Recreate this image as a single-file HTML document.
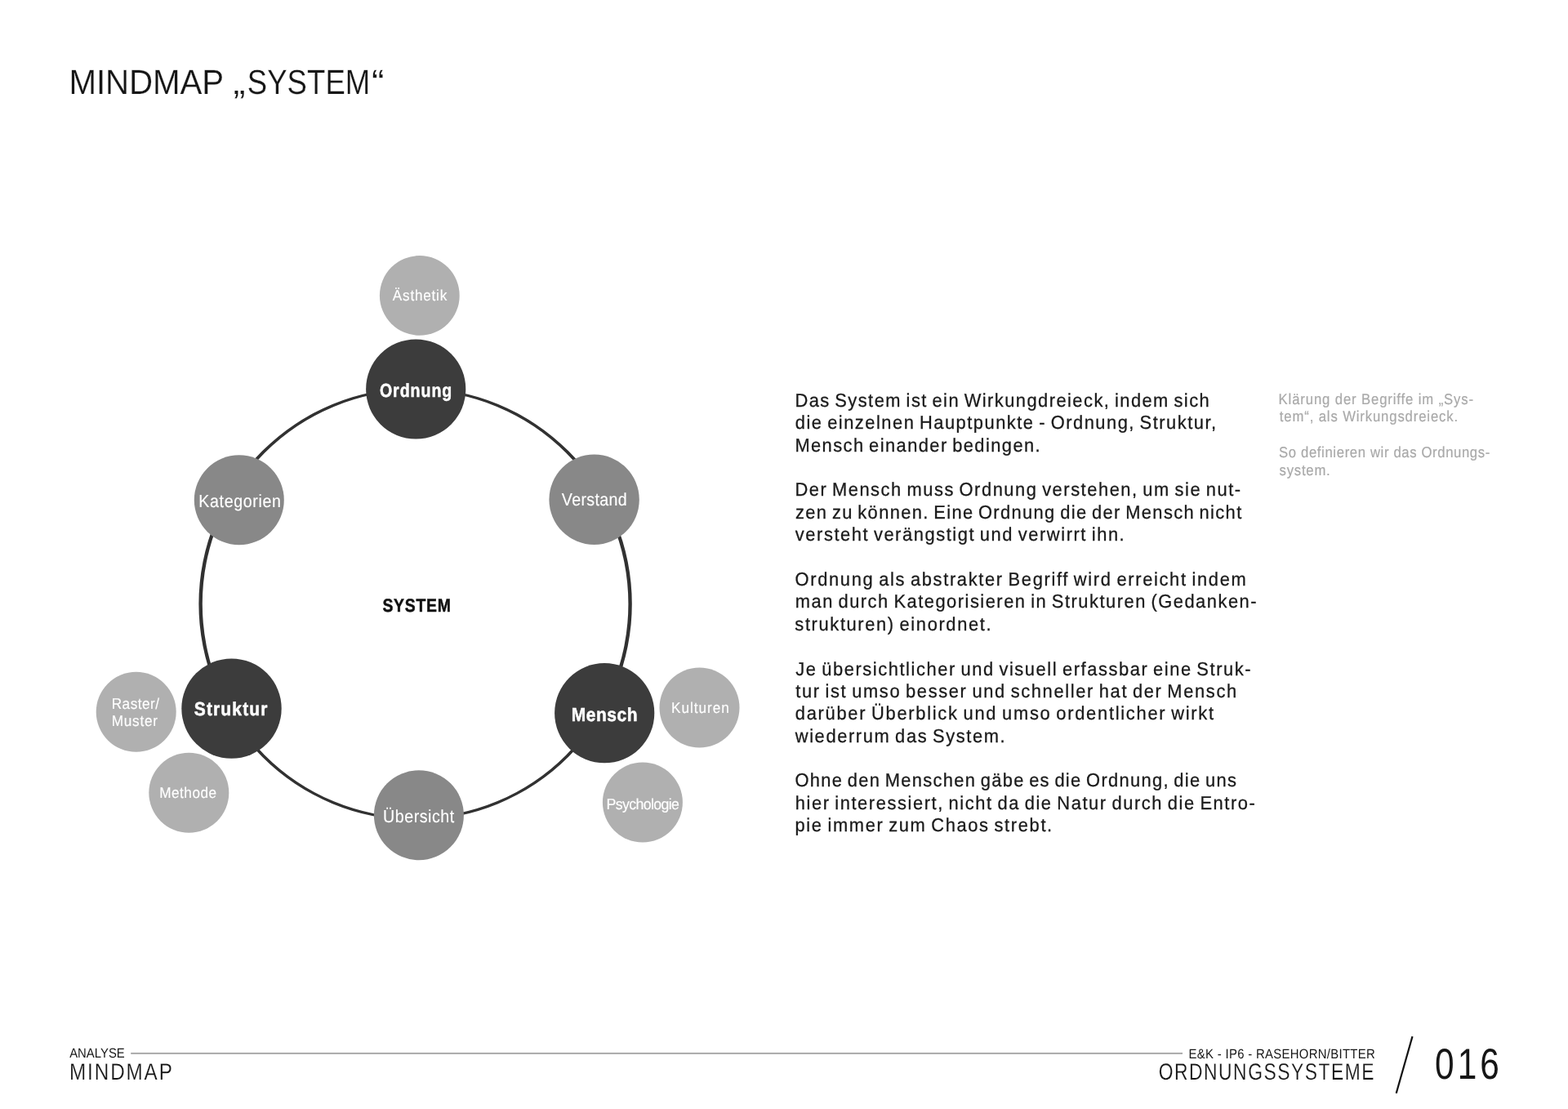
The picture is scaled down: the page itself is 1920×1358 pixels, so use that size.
<!DOCTYPE html>
<html lang="de">
<head>
<meta charset="utf-8">
<title>Mindmap „System“ – Ordnungssysteme</title>
<style>
html,body{margin:0;padding:0;background:#fff}
body{width:1920px;height:1358px;position:relative;overflow:hidden;font-family:"Liberation Sans",sans-serif;will-change:transform}
h1,p,section,article,aside,footer{margin:0;padding:0;font:inherit}
.t{position:absolute;left:0;top:0;display:block;white-space:nowrap;line-height:1;font-weight:400;font-style:normal;transform-origin:0 0;margin:0;text-rendering:geometricPrecision}
svg{position:absolute;left:0;top:0}
</style>
</head>
<body>
<svg width="1920" height="1358" viewBox="0 0 1920 1358">
<path fill="#313131" fill-rule="evenodd" d="M243.4 739.6a265.2 264.7 0 1 0 530.4 0a265.2 264.7 0 1 0 -530.4 0zM247.8 739.6a260.8 261.6 0 1 0 521.6 0a260.8 261.6 0 1 0 -521.6 0z"/>
<circle cx="513.8" cy="361.9" r="48.9" fill="#b0b0b0"/>
<circle cx="166.7" cy="871.8" r="49.0" fill="#b0b0b0"/>
<circle cx="231.3" cy="970.8" r="49.0" fill="#b0b0b0"/>
<circle cx="856.5" cy="866.5" r="49.0" fill="#b0b0b0"/>
<circle cx="786.9" cy="982.6" r="49.0" fill="#b0b0b0"/>
<circle cx="292.8" cy="612.3" r="55.0" fill="#888888"/>
<circle cx="727.6" cy="611.8" r="55.2" fill="#888888"/>
<circle cx="512.9" cy="998.2" r="55.0" fill="#888888"/>
<circle cx="509.2" cy="476.5" r="61.1" fill="#3c3c3c"/>
<circle cx="283.5" cy="867.6" r="61.2" fill="#3c3c3c"/>
<circle cx="740.2" cy="873.2" r="61.1" fill="#3c3c3c"/>
<rect x="160.2" y="1288.9" width="1287.8" height="2.0" fill="#aaaaaa"/>
<line x1="1729.5" y1="1269.1" x2="1709.7" y2="1338.7" stroke="#111111" stroke-width="2.2"/>
</svg>
<h1><span class="t" id="t0" style="font-size:42.4px;color:#161616;letter-spacing:-0.114px;-webkit-text-stroke:0.2px #fff;transform:translate(84.5px,80px) scaleX(0.95)">MINDMAP</span> <span class="t" id="t1" style="font-size:42.4px;color:#161616;letter-spacing:0px;-webkit-text-stroke:0.2px #fff;transform:translate(285.45px,80px) scaleX(1.066)">„</span><span class="t" id="t2" style="font-size:42.4px;color:#161616;letter-spacing:0.105px;-webkit-text-stroke:0.2px #fff;transform:translate(302.8px,80px) scaleX(0.86)">SYSTEM</span><span class="t" id="t3" style="font-size:42.4px;color:#161616;letter-spacing:0px;-webkit-text-stroke:0.2px #fff;transform:translate(455.1px,80px) scaleX(1.099)">“</span></h1>
<section class="diagram"><span class="t" id="t4" style="font-size:18.7px;color:#ffffff;letter-spacing:0.815px;-webkit-text-stroke:0.15px #ffffff;transform:translate(480.85px,353px) scaleX(0.92)">Ästhetik</span>
<span class="t" id="t5" style="font-size:23.3px;color:#ffffff;font-weight:700;letter-spacing:1.151px;-webkit-text-stroke:0.5px #ffffff;transform:translate(464.9px,467px) scaleX(0.84)">Ordnung</span>
<span class="t" id="t6" style="font-size:21.8px;color:#ffffff;letter-spacing:0.691px;-webkit-text-stroke:0.15px #ffffff;transform:translate(243.35px,603px) scaleX(0.9)">Kategorien</span>
<span class="t" id="t7" style="font-size:21.8px;color:#ffffff;letter-spacing:0.365px;-webkit-text-stroke:0.15px #ffffff;transform:translate(687.85px,601px) scaleX(0.9)">Verstand</span>
<span class="t" id="t8" style="font-size:22.5px;color:#111111;font-weight:700;letter-spacing:0.872px;-webkit-text-stroke:0.5px #111111;transform:translate(468.45px,731px) scaleX(0.86)">SYSTEM</span>
<span class="t" id="t9" style="font-size:23.3px;color:#ffffff;font-weight:700;letter-spacing:1.294px;-webkit-text-stroke:0.5px #ffffff;transform:translate(237.75px,857px) scaleX(0.9)">Struktur</span>
<span class="t" id="t10" style="font-size:23.3px;color:#ffffff;font-weight:700;letter-spacing:0.622px;-webkit-text-stroke:0.5px #ffffff;transform:translate(699.7px,864px) scaleX(0.9)">Mensch</span>
<span class="t" id="t11" style="font-size:18.7px;color:#ffffff;letter-spacing:0.498px;-webkit-text-stroke:0.15px #ffffff;transform:translate(136.75px,853px) scaleX(0.92)">Raster/</span>
<span class="t" id="t12" style="font-size:18.7px;color:#ffffff;letter-spacing:0.783px;-webkit-text-stroke:0.15px #ffffff;transform:translate(136.75px,874px) scaleX(0.92)">Muster</span>
<span class="t" id="t13" style="font-size:18.7px;color:#ffffff;letter-spacing:1.048px;-webkit-text-stroke:0.15px #ffffff;transform:translate(822.1px,858px) scaleX(0.92)">Kulturen</span>
<span class="t" id="t14" style="font-size:18.7px;color:#ffffff;letter-spacing:0.507px;-webkit-text-stroke:0.15px #ffffff;transform:translate(195.3px,962px) scaleX(0.92)">Methode</span>
<span class="t" id="t15" style="font-size:18.7px;color:#ffffff;letter-spacing:-0.658px;-webkit-text-stroke:0.15px #ffffff;transform:translate(742.45px,976px) scaleX(0.95)">Psychologie</span>
<span class="t" id="t16" style="font-size:21.8px;color:#ffffff;letter-spacing:0.611px;-webkit-text-stroke:0.15px #ffffff;transform:translate(469px,989px) scaleX(0.9)">Übersicht</span></section>
<article><p><span class="t" id="t17" style="font-size:23px;color:#1a1a1a;letter-spacing:1.544px;word-spacing:-2px;-webkit-text-stroke:0.3px #1a1a1a;transform:translate(973.4px,479px) scaleX(0.95)">Das System ist ein Wirkungdreieck, indem sich</span>
<span class="t" id="t18" style="font-size:23px;color:#1a1a1a;letter-spacing:1.593px;word-spacing:-2px;-webkit-text-stroke:0.3px #1a1a1a;transform:translate(973.75px,506px) scaleX(0.95)">die einzelnen Hauptpunkte - Ordnung, Struktur,</span>
<span class="t" id="t19" style="font-size:23px;color:#1a1a1a;letter-spacing:1.507px;word-spacing:-2px;-webkit-text-stroke:0.3px #1a1a1a;transform:translate(973.4px,534px) scaleX(0.95)">Mensch einander bedingen.</span></p>
<p><span class="t" id="t20" style="font-size:23px;color:#1a1a1a;letter-spacing:1.628px;word-spacing:-2px;-webkit-text-stroke:0.3px #1a1a1a;transform:translate(973.4px,588px) scaleX(0.95)">Der Mensch muss Ordnung verstehen, um sie nut-</span>
<span class="t" id="t21" style="font-size:23px;color:#1a1a1a;letter-spacing:1.446px;word-spacing:-2px;-webkit-text-stroke:0.3px #1a1a1a;transform:translate(974.05px,616px) scaleX(0.95)">zen zu können. Eine Ordnung die der Mensch nicht</span>
<span class="t" id="t22" style="font-size:23px;color:#1a1a1a;letter-spacing:1.659px;word-spacing:-2px;-webkit-text-stroke:0.3px #1a1a1a;transform:translate(973.8px,643px) scaleX(0.95)">versteht verängstigt und verwirrt ihn.</span></p>
<p><span class="t" id="t23" style="font-size:23px;color:#1a1a1a;letter-spacing:1.756px;word-spacing:-2px;-webkit-text-stroke:0.3px #1a1a1a;transform:translate(973.6px,698px) scaleX(0.95)">Ordnung als abstrakter Begriff wird erreicht indem</span>
<span class="t" id="t24" style="font-size:23px;color:#1a1a1a;letter-spacing:1.593px;word-spacing:-2px;-webkit-text-stroke:0.3px #1a1a1a;transform:translate(973.75px,725px) scaleX(0.95)">man durch Kategorisieren in Strukturen (Gedanken-</span>
<span class="t" id="t25" style="font-size:23px;color:#1a1a1a;letter-spacing:1.722px;word-spacing:-2px;-webkit-text-stroke:0.3px #1a1a1a;transform:translate(973.35px,753px) scaleX(0.95)">strukturen) einordnet.</span></p>
<p><span class="t" id="t26" style="font-size:23px;color:#1a1a1a;letter-spacing:1.662px;word-spacing:-2px;-webkit-text-stroke:0.3px #1a1a1a;transform:translate(974.2px,808px) scaleX(0.95)">Je übersichtlicher und visuell erfassbar eine Struk-</span>
<span class="t" id="t27" style="font-size:23px;color:#1a1a1a;letter-spacing:1.744px;word-spacing:-2px;-webkit-text-stroke:0.3px #1a1a1a;transform:translate(974.2px,835px) scaleX(0.95)">tur ist umso besser und schneller hat der Mensch</span>
<span class="t" id="t28" style="font-size:23px;color:#1a1a1a;letter-spacing:1.819px;word-spacing:-2px;-webkit-text-stroke:0.3px #1a1a1a;transform:translate(973.75px,862px) scaleX(0.95)">darüber Überblick und umso ordentlicher wirkt</span>
<span class="t" id="t29" style="font-size:23px;color:#1a1a1a;letter-spacing:1.705px;word-spacing:-2px;-webkit-text-stroke:0.3px #1a1a1a;transform:translate(973.75px,890px) scaleX(0.95)">wiederrum das System.</span></p>
<p><span class="t" id="t30" style="font-size:23px;color:#1a1a1a;letter-spacing:1.404px;word-spacing:-2px;-webkit-text-stroke:0.3px #1a1a1a;transform:translate(973.45px,944px) scaleX(0.95)">Ohne den Menschen gäbe es die Ordnung, die uns</span>
<span class="t" id="t31" style="font-size:23px;color:#1a1a1a;letter-spacing:1.669px;word-spacing:-2px;-webkit-text-stroke:0.3px #1a1a1a;transform:translate(973.75px,972px) scaleX(0.95)">hier interessiert, nicht da die Natur durch die Entro-</span>
<span class="t" id="t32" style="font-size:23px;color:#1a1a1a;letter-spacing:1.743px;word-spacing:-2px;-webkit-text-stroke:0.3px #1a1a1a;transform:translate(973.45px,999px) scaleX(0.95)">pie immer zum Chaos strebt.</span></p></article>
<aside><p><span class="t" id="t33" style="font-size:18.5px;color:#a9a9a9;letter-spacing:0.992px;-webkit-text-stroke:0.2px #a9a9a9;transform:translate(1565.6px,480px) scaleX(0.9)">Klärung der Begriffe im „Sys-</span>
<span class="t" id="t34" style="font-size:18.5px;color:#a9a9a9;letter-spacing:0.982px;-webkit-text-stroke:0.2px #a9a9a9;transform:translate(1566.85px,501px) scaleX(0.9)">tem“, als Wirkungsdreieck.</span></p>
<p><span class="t" id="t35" style="font-size:18.5px;color:#a9a9a9;letter-spacing:0.719px;-webkit-text-stroke:0.2px #a9a9a9;transform:translate(1566.1px,545px) scaleX(0.9)">So definieren wir das Ordnungs-</span>
<span class="t" id="t36" style="font-size:18.5px;color:#a9a9a9;letter-spacing:0.87px;-webkit-text-stroke:0.2px #a9a9a9;transform:translate(1566.6px,567px) scaleX(0.9)">system.</span></p></aside>
<footer><div class="footL"><span class="t" id="t37" style="font-size:16.5px;color:#161616;letter-spacing:0.019px;transform:translate(85.2px,1282px) scaleX(0.9)">ANALYSE</span>
<span class="t" id="t38" style="font-size:28.5px;color:#161616;letter-spacing:2.245px;-webkit-text-stroke:0.2px #fff;transform:translate(85px,1299px) scaleX(0.85)">MINDMAP</span></div>
<div class="footR"><span class="t" id="t39" style="font-size:16.5px;color:#161616;letter-spacing:0.368px;transform:translate(1455.6px,1283px) scaleX(0.9)">E&amp;K - IP6 - RASEHORN/BITTER</span>
<span class="t" id="t40" style="font-size:28.5px;color:#161616;letter-spacing:1.951px;-webkit-text-stroke:0.2px #fff;transform:translate(1418.7px,1299px) scaleX(0.8)">ORDNUNGSSYSTEME</span></div>
<div class="page"><span class="t" id="t41" style="font-size:53px;color:#161616;letter-spacing:5.188px;transform:translate(1756.9px,1277px) scaleX(0.8)">016</span></div></footer>
</body>
</html>
